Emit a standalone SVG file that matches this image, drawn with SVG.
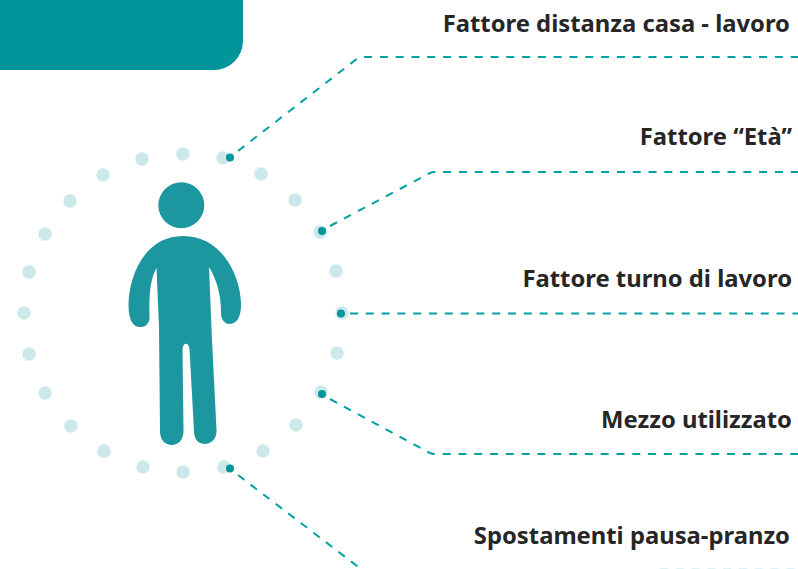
<svg xmlns="http://www.w3.org/2000/svg" width="798" height="569" viewBox="0 0 798 569">
<style>
.ring{fill:#cde8eb}
.dot{fill:#00959b}
.conn{fill:none;stroke:#00a0a5;stroke-width:2;stroke-dasharray:8 7.800}
.fig{fill:#1d979f}
text{font-family:"Noto Sans","Liberation Sans",sans-serif;font-weight:700;font-size:23.800px;fill:#262626;text-anchor:end}
</style>
<rect width="798" height="569" fill="#ffffff"/>
<path id="banner" d="M0 0H243V41A29 29 0 0 1 214 70H0Z" fill="#00959b"/>
<g id="ring" class="ring">
<circle cx="183" cy="154" r="6.700"/><circle cx="223" cy="158" r="6.700"/><circle cx="261" cy="174" r="6.700"/><circle cx="295" cy="200" r="6.700"/><circle cx="320" cy="232" r="6.700"/><circle cx="336" cy="271" r="6.700"/><circle cx="342" cy="313" r="6.700"/><circle cx="337" cy="353" r="6.700"/><circle cx="321" cy="392" r="6.700"/><circle cx="296" cy="425" r="6.700"/><circle cx="263" cy="451" r="6.700"/><circle cx="224" cy="467" r="6.700"/><circle cx="183" cy="472" r="6.700"/><circle cx="143" cy="467" r="6.700"/><circle cx="104" cy="451" r="6.700"/><circle cx="71" cy="426" r="6.700"/><circle cx="45" cy="393" r="6.700"/><circle cx="29" cy="354" r="6.700"/><circle cx="24" cy="313" r="6.700"/><circle cx="29" cy="272" r="6.700"/><circle cx="45" cy="234" r="6.700"/><circle cx="70" cy="201" r="6.700"/><circle cx="103" cy="175" r="6.700"/><circle cx="142" cy="159" r="6.700"/>
</g>
<g id="person" class="fig">
<circle cx="181.300" cy="205.300" r="23"/>
<path d="M183 236C222 236 240 275 241 303C241.500 318 236 324 230 324C224 324 221 319 221 313C221 295 217 280 209 267L212 340L216.500 430C217 440 210 444 205 444C199 444 194 440 194 431L189.500 349C189 342 183 342 182.500 349L183.500 431C183.500 440 178 445 172 445C165 445 160 440 160 431L159 327L156.500 268C150 280 149 295 149.500 316C150 323 146 327 140 327C133 327 128.500 320 128.500 305C129 275 145 236 183 236Z"/>
</g>
<g id="connectors">
<path class="conn" d="M238 151L358 58Q360 57 363 57H798"/>
<path class="conn" d="M330 226L430 173Q432 172 435 172H798"/>
<path class="conn" d="M350 313.500H798"/>
<path class="conn" d="M330 399L430 453Q432 454 435 454H798"/>
<path class="conn" d="M238 475L361 569"/>
<path class="conn" d="M660 569.800H798" opacity="0.5"/>
</g>
<g id="anchors" class="dot">
<circle cx="230" cy="157.500" r="4"/><circle cx="322" cy="231" r="4"/><circle cx="341" cy="313.500" r="4"/><circle cx="322" cy="394" r="4"/><circle cx="230" cy="468.500" r="4"/>
</g>
<g id="label-1"><text x="790" y="32">Fattore distanza casa - lavoro</text></g>
<g id="label-2"><text x="792" y="145">Fattore “Età”</text></g>
<g id="label-3"><text x="792" y="287">Fattore turno di lavoro</text></g>
<g id="label-4"><text x="792" y="428">Mezzo utilizzato</text></g>
<g id="label-5"><text x="790" y="544">Spostamenti pausa-pranzo</text></g>
</svg>
